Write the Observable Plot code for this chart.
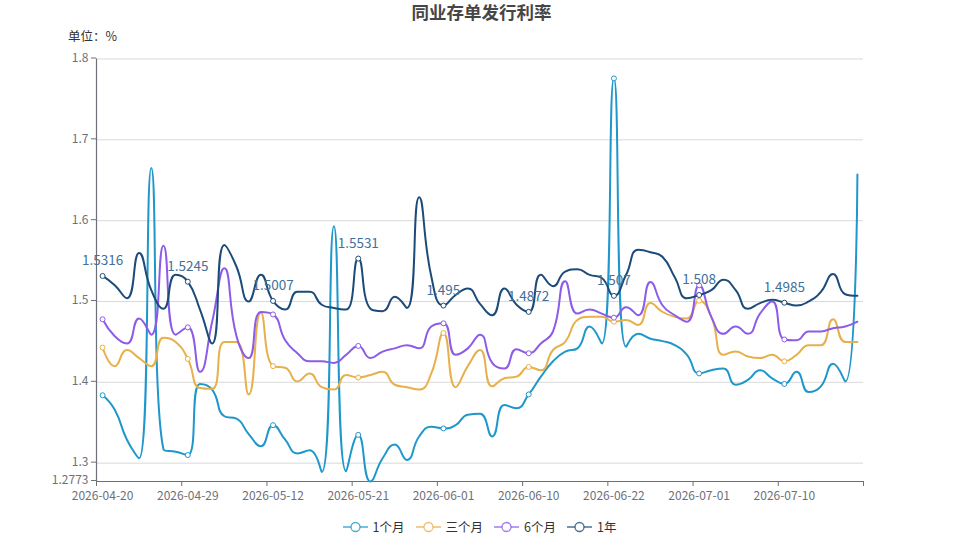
<!DOCTYPE html>
<html>
<head>
<meta charset="utf-8">
<script src="https://cdn.jsdelivr.net/npm/d3@7"></script>
<script src="https://cdn.jsdelivr.net/npm/@observablehq/plot@0.6"></script>
<style>
  html, body { margin: 0; padding: 0; background: #fff; }
  body { font-family: "Noto Sans CJK SC", "Noto Sans", sans-serif; }
  #wrap { position: relative; width: 959px; height: 540px; overflow: hidden; }
  #title { position: absolute; top: 0px; left: 2px; width: 959px; text-align: center; font-size: 17.5px; font-weight: bold; color: #464646; line-height: 24px; }
  #unit { position: absolute; top: 27px; left: 68px; font-size: 12.5px; color: #333; line-height: 18px; }
  #chart { position: absolute; top: 0; left: 0; }
  #legend { position: absolute; top: 518px; left: 0; width: 959px; display: flex; justify-content: center; gap: 11px; font-size: 12.5px; color: #333; line-height: 18px; }
  .item { display: flex; align-items: center; gap: 5px; }
</style>
</head>
<body>
<div id="wrap">
  <div id="chart"></div>
  <div id="title">同业存单发行利率</div>
  <div id="unit">单位：%</div>
  <div id="legend"></div>
</div>
<script>
// ---- data ----
const dates = ["2026-04-20","2026-04-21","2026-04-22","2026-04-23","2026-04-24","2026-04-27","2026-04-28","2026-04-29","2026-04-30","2026-05-06",
"2026-05-07","2026-05-08","2026-05-09","2026-05-11","2026-05-12","2026-05-13","2026-05-14","2026-05-15","2026-05-18","2026-05-19",
"2026-05-20","2026-05-21","2026-05-22","2026-05-25","2026-05-26","2026-05-27","2026-05-28","2026-05-29","2026-06-01","2026-06-02",
"2026-06-03","2026-06-04","2026-06-05","2026-06-08","2026-06-09","2026-06-10","2026-06-11","2026-06-12","2026-06-15","2026-06-16",
"2026-06-17","2026-06-18","2026-06-22","2026-06-23","2026-06-24","2026-06-25","2026-06-26","2026-06-29","2026-06-30","2026-07-01",
"2026-07-02","2026-07-03","2026-07-06","2026-07-07","2026-07-08","2026-07-09","2026-07-10","2026-07-13","2026-07-14","2026-07-15",
"2026-07-16","2026-07-17","2026-07-20"];

const m1 = [1.384,1.366,1.329,1.306,1.665,1.317,1.314,1.310,1.398,1.391,
1.358,1.355,1.336,1.321,1.347,1.329,1.312,1.316,1.289,1.593,
1.290,1.335,1.2773,1.306,1.323,1.304,1.333,1.345,1.343,1.347,
1.360,1.361,1.333,1.372,1.368,1.385,1.407,1.426,1.438,1.442,
1.469,1.448,1.776,1.444,1.460,1.454,1.451,1.446,1.434,1.411,
1.415,1.417,1.397,1.403,1.415,1.405,1.398,1.413,1.388,1.395,
1.423,1.401,1.657];

const m3 = [1.443,1.420,1.440,1.430,1.420,1.455,1.450,1.429,1.393,1.392,
1.450,1.450,1.385,1.486,1.420,1.418,1.401,1.411,1.394,1.391,
1.409,1.406,1.409,1.413,1.397,1.394,1.391,1.411,1.461,1.394,
1.420,1.440,1.395,1.405,1.407,1.419,1.415,1.440,1.450,1.477,
1.481,1.481,1.475,1.477,1.471,1.498,1.487,1.481,1.479,1.501,
1.481,1.434,1.438,1.432,1.430,1.434,1.426,1.434,1.446,1.446,
1.478,1.450,1.450];

const m6 = [1.478,1.457,1.448,1.479,1.459,1.569,1.459,1.468,1.413,1.475,
1.541,1.457,1.430,1.487,1.484,1.452,1.436,1.426,1.426,1.424,
1.434,1.445,1.430,1.438,1.442,1.446,1.442,1.469,1.473,1.434,
1.442,1.459,1.424,1.417,1.441,1.436,1.448,1.463,1.525,1.485,
1.490,1.485,1.480,1.493,1.483,1.524,1.495,1.483,1.475,1.520,
1.481,1.460,1.469,1.460,1.485,1.500,1.453,1.452,1.463,1.463,
1.467,1.469,1.475];

const y1 = [1.5316,1.520,1.504,1.560,1.514,1.491,1.533,1.5245,1.490,1.448,
1.570,1.543,1.500,1.533,1.5007,1.490,1.512,1.512,1.496,1.492,
1.490,1.5531,1.491,1.488,1.506,1.492,1.629,1.531,1.495,1.508,
1.516,1.497,1.483,1.516,1.496,1.4872,1.533,1.519,1.537,1.540,
1.533,1.529,1.507,1.533,1.564,1.561,1.555,1.530,1.504,1.508,
1.514,1.527,1.514,1.491,1.498,1.502,1.4985,1.495,1.500,1.512,
1.534,1.509,1.507];

const seriesNames = ["1个月", "三个月", "6个月", "1年"];
const seriesValues = [m1, m3, m6, y1];
const colors = ["#1f97cb", "#e8b04b", "#8c5ce8", "#1d4b79"];
const yTicks = [1.2773, 1.3, 1.4, 1.5, 1.6, 1.7, 1.8];
const labelEvery = 7;

// ---- tables ----
const rows = [];
seriesValues.forEach((vals, s) => vals.forEach((v, i) => rows.push({i, v, s: seriesNames[s]})));
const marked = rows.filter(d => d.i % labelEvery === 0);
const labeled = marked.filter(d => d.s === "1年");
const n = dates.length;
const labelIdx = d3.range(0, n, labelEvery);
const boundaryTicks = labelIdx.map(i => i - 0.5).concat([n - 0.5]);

// ECharts-style smoothing (smooth = 0.5 with constraint)
function echartsCurve(context) {
  let pts = [];
  return {
    areaStart() {}, areaEnd() {},
    lineStart() { pts = []; },
    point(x, y) { pts.push([+x, +y]); },
    lineEnd() {
      const m = pts.length;
      if (!m) return;
      const smooth = 0.5;
      let prevX = pts[0][0], prevY = pts[0][1];
      context.moveTo(prevX, prevY);
      let cpx0 = prevX, cpy0 = prevY;
      for (let k = 1; k < m; k++) {
        const x = pts[k][0], y = pts[k][1];
        let cpx1, cpy1, ncx = x, ncy = y;
        if (k === m - 1) { cpx1 = x; cpy1 = y; }
        else {
          const nx = pts[k + 1][0], ny = pts[k + 1][1];
          let vx = nx - prevX, vy = ny - prevY;
          const l0 = Math.hypot(x - prevX, y - prevY);
          const l1 = Math.hypot(nx - x, ny - y);
          const r = l1 / (l0 + l1);
          ncx = x + vx * smooth * r; ncy = y + vy * smooth * r;
          ncx = Math.max(Math.min(ncx, Math.max(nx, x)), Math.min(nx, x));
          ncy = Math.max(Math.min(ncy, Math.max(ny, y)), Math.min(ny, y));
          vx = ncx - x; vy = ncy - y;
          cpx1 = x - vx * l0 / l1; cpy1 = y - vy * l0 / l1;
          cpx1 = Math.max(Math.min(cpx1, Math.max(prevX, x)), Math.min(prevX, x));
          cpy1 = Math.max(Math.min(cpy1, Math.max(prevY, y)), Math.min(prevY, y));
          vx = x - cpx1; vy = y - cpy1;
          ncx = x + vx * l1 / l0; ncy = y + vy * l1 / l0;
        }
        context.bezierCurveTo(cpx0, cpy0, cpx1, cpy1, x, y);
        cpx0 = ncx; cpy0 = ncy; prevX = x; prevY = y;
      }
    }
  };
}

const font = "'Noto Sans CJK SC', 'Noto Sans', sans-serif";
const chart = Plot.plot({
  width: 959,
  height: 540,
  marginLeft: 96,
  marginRight: 96,
  marginTop: 58.5,
  marginBottom: 59,
  style: {fontFamily: font, fontSize: "12px", background: "transparent"},
  x: {type: "linear", domain: [-0.5, n - 0.5]},
  y: {domain: [1.2773, 1.8]},
  color: {domain: seriesNames, range: colors},
  marks: [
    Plot.gridY(yTicks.slice(1), {stroke: "#d9d9d9", strokeOpacity: 1}),
    Plot.ruleX([-0.5], {stroke: "#6E7079", strokeWidth: 1.2}),
    Plot.ruleY([1.2773], {stroke: "#6E7079", strokeWidth: 1.2}),
    Plot.axisY({ticks: yTicks, tickSize: 5, tickPadding: 3, tickFormat: d => String(d), color: "#6E7079", fontSize: 12, dy: -1, label: null}),
    Plot.axisX({ticks: boundaryTicks, tickSize: 5, tickFormat: () => "", color: "#6E7079", label: null}),
    Plot.axisX({ticks: labelIdx, tickSize: 0, tickPadding: 10, tickFormat: i => dates[i], color: "#6E7079", fontSize: 12, label: null}),
    Plot.line(rows, {x: "i", y: "v", z: "s", stroke: "s", strokeWidth: 2, curve: echartsCurve}),
    Plot.dot(marked, {x: "i", y: "v", r: 2.5, fill: "white", stroke: "s", strokeWidth: 1}),
    Plot.text(labeled, {x: "i", y: "v", text: d => String(d.v), dy: -15, fill: "#41709c", fontSize: 13.5})
  ]
});
document.getElementById("chart").appendChild(chart);

// legend
const legend = document.getElementById("legend");
seriesNames.forEach((name, k) => {
  const item = document.createElement("div");
  item.className = "item";
  item.innerHTML = `<svg width="25" height="14"><line x1="0" y1="7" x2="25" y2="7" stroke="${colors[k]}" stroke-width="1.5" stroke-opacity="0.8"/><circle cx="12.5" cy="7" r="4.5" fill="white" stroke="${colors[k]}" stroke-width="1.3" stroke-opacity="0.8"/></svg><span>${name}</span>`;
  legend.appendChild(item);
});
</script>
</body>
</html>
